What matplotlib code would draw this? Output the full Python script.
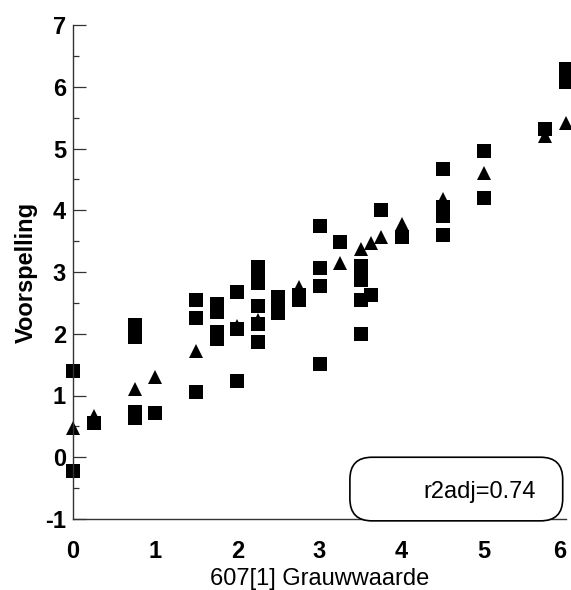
import matplotlib.pyplot as plt
from matplotlib.patches import FancyBboxPatch
from matplotlib.ticker import MultipleLocator

# -----------------------------
# DATA
# -----------------------------
SQ_X = [0, 0, 0.25, 0.75, 0.75, 0.75, 0.75, 1,
        1.5, 1.5, 1.5,
        1.75, 1.75, 1.75, 1.75,
        2, 2, 2,
        2.25, 2.25, 2.25, 2.25, 2.25, 2.25,
        2.5, 2.5, 2.5,
        2.75, 2.75,
        3, 3, 3, 3,
        3.25,
        3.5, 3.5, 3.5, 3.5,
        3.625, 3.75, 4,
        4.5, 4.5, 4.5, 4.5,
        5, 5,
        5.75,
        6, 6, 6]
SQ_Y = [1.39, -0.22, 0.55, 2.14, 1.95, 0.74, 0.63, 0.72,
        2.54, 2.26, 1.06,
        2.48, 2.35, 2.03, 1.92,
        2.68, 2.07, 1.24,
        3.08, 2.95, 2.82, 2.45, 2.15, 1.87,
        2.60, 2.45, 2.33,
        2.55, 2.62,
        3.75, 3.07, 2.77, 1.51,
        3.48,
        3.09, 2.87, 2.55, 2.00,
        2.62, 4.00, 3.56,
        4.66, 4.06, 3.90, 3.60,
        4.96, 4.20,
        5.32,
        6.28, 6.18, 6.08]

TRI_X = [0, 0.25, 0.75, 1, 1.5, 2, 2.25, 2.75, 3.25, 3.5, 3.625, 3.75, 4,
         4.5, 5, 5.75, 6]
TRI_Y = [0.47, 0.67, 1.10, 1.30, 1.72, 2.12, 2.22, 2.76, 3.15, 3.37, 3.47, 3.57, 3.78,
         4.19, 4.61, 5.20, 5.42]

X_TICKS = [0, 1, 2, 3, 4, 5, 6]
X_LABEL = "607[1] Grauwwaarde"
Y_LABEL = "Voorspelling"
FIT_TEXT = "r2adj=0.74"

plt.rcParams["font.family"] = ["Liberation Sans", "DejaVu Sans"]
plt.rcParams["axes.unicode_minus"] = False

fig = plt.figure(figsize=(5.71, 5.90), dpi=100)
ax = fig.add_axes([73 / 571, 1 - 519 / 590, 493 / 571, 494 / 590])

ax.plot(SQ_X, SQ_Y, "s", color="black", markersize=9.6, markeredgewidth=0, clip_on=False)
ax.plot(TRI_X, TRI_Y, "^", color="black", markersize=10, markeredgewidth=0, clip_on=False)

ax.set_xlim(0, 6)
ax.set_ylim(-1, 7)

for side in ("top", "right"):
    ax.spines[side].set_visible(False)
for side in ("left", "bottom"):
    ax.spines[side].set_linewidth(1.0)
    ax.spines[side].set_color("#333333")

ax.yaxis.set_major_locator(MultipleLocator(1))
ax.yaxis.set_minor_locator(MultipleLocator(0.5))
ax.set_xticks(X_TICKS)
ax.tick_params(axis="y", which="major", direction="in", length=9, width=0.9,
               color="#333333", pad=5, labelsize=17)
ax.tick_params(axis="y", which="minor", direction="in", length=4.3, width=0.9,
               color="#333333")
ax.tick_params(axis="x", which="major", length=0, pad=15, labelsize=17)

ax.set_xlabel(X_LABEL, fontsize=17, labelpad=4)
ax.set_ylabel(Y_LABEL, fontsize=17, fontweight="bold", labelpad=5)

fig.canvas.draw()
for lbl in ax.get_xticklabels() + ax.get_yticklabels():
    lbl.set_fontweight("bold")
# the last x label sits at the figure edge; keep it inside
ax.get_xticklabels()[-1].set_horizontalalignment("right")

# rounded box with the fit statistic (corner radius kept circular in pixels)
px_x, px_y = 493 / 6, 494 / 8
r = 22 / px_x
box = FancyBboxPatch((3.37, -1.03), 2.59, 1.03,
                     boxstyle=f"round,pad=0,rounding_size={r}",
                     mutation_aspect=px_x / px_y,
                     facecolor="white", edgecolor="black", linewidth=1.2,
                     clip_on=False, zorder=3)
ax.add_patch(box)
ax.text(4.95, -0.57, FIT_TEXT, fontsize=17, ha="center", va="center", zorder=4)

fig.savefig("out.png", dpi=100)
